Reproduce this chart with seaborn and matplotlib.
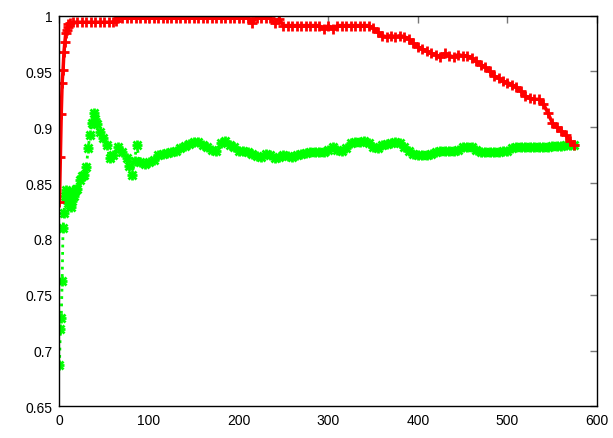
import matplotlib
matplotlib.use("Agg")
import matplotlib.pyplot as plt
import seaborn as sns
import pandas as pd

# red series (upper curve)
red_x = [0, 1, 2, 3, 4, 5, 6, 7, 8, 9, 10, 12, 15, 20, 25, 30, 35, 40, 45, 50, 55, 60, 63,
         65, 70, 75, 80, 85, 90, 95, 100, 105, 110, 115, 120, 125, 130, 135, 140, 145, 150,
         155, 160, 165, 170, 175, 180, 185, 190, 195, 200, 205, 210, 215, 220, 225, 230, 235,
         240, 245, 250, 255, 260, 265, 270, 275, 280, 285, 290, 295, 300, 305, 310, 315, 320,
         325, 330, 335, 340, 345, 350, 355, 360, 365, 370, 375, 380, 385, 390, 395, 400, 405,
         410, 415, 420, 425, 430, 435, 440, 445, 450, 455, 460, 465, 470, 475, 480, 485, 490,
         495, 500, 505, 510, 515, 520, 525, 530, 535, 540, 545, 550, 555, 560, 565, 570, 574]
red_y = [0.833, 0.873, 0.912, 0.940, 0.951, 0.967, 0.976, 0.984, 0.987, 0.990, 0.992, 0.993,
         0.994, 0.994, 0.994, 0.994, 0.994, 0.994, 0.994, 0.994, 0.994, 0.994, 0.995,
         0.998, 0.998, 0.998, 0.998, 0.998, 0.998, 0.998, 0.998, 0.998, 0.998, 0.998, 0.998,
         0.998, 0.998, 0.998, 0.998, 0.998, 0.998, 0.998, 0.998, 0.998, 0.998, 0.998, 0.998,
         0.998, 0.998, 0.998, 0.998, 0.998, 0.998, 0.993, 0.998, 0.998, 0.998, 0.998,
         0.993, 0.997, 0.991, 0.991, 0.991, 0.991, 0.991, 0.991, 0.991, 0.991, 0.991, 0.988,
         0.991, 0.988, 0.991, 0.991, 0.991, 0.991, 0.991, 0.991, 0.991, 0.991, 0.989, 0.985,
         0.982, 0.981, 0.982, 0.981, 0.982, 0.981, 0.979, 0.975, 0.972, 0.970, 0.968, 0.966,
         0.965, 0.963, 0.966, 0.964, 0.963, 0.965, 0.964, 0.964, 0.962, 0.959, 0.956, 0.954,
         0.950, 0.946, 0.944, 0.941, 0.940, 0.938, 0.936, 0.932, 0.928, 0.926, 0.925, 0.925,
         0.921, 0.913, 0.904, 0.900, 0.897, 0.893, 0.888, 0.884]

# green series (lower curve)
green_x = [0, 1, 2, 3, 4, 5, 6, 7, 8, 9, 10, 11, 12, 13, 14, 15, 16, 17, 18, 20, 23, 25, 27,
           30, 32, 34, 36, 38, 40, 42, 45, 49, 53, 56, 60, 65, 70, 75, 78, 81, 84, 86, 90, 95,
           100, 105, 110, 115, 120, 125, 130, 135, 140, 145, 150, 155, 160, 165, 170, 175, 180,
           185, 190, 195, 200, 205, 210, 215, 220, 225, 230, 235, 240, 245, 250, 255, 260, 265,
           270, 275, 280, 285, 290, 295, 300, 305, 310, 315, 320, 325, 330, 335, 340, 345, 350,
           355, 360, 365, 370, 375, 380, 385, 390, 395, 400, 405, 410, 415, 420, 425, 430, 435,
           440, 445, 450, 455, 460, 465, 470, 475, 480, 485, 490, 495, 500, 505, 510, 515, 520,
           525, 530, 535, 540, 545, 550, 555, 560, 565, 570, 574]
green_y = [0.687, 0.719, 0.729, 0.762, 0.810, 0.823, 0.838, 0.844, 0.836, 0.832, 0.840, 0.835,
           0.830, 0.829, 0.834, 0.842, 0.838, 0.843, 0.845, 0.845, 0.853, 0.856, 0.857,
           0.864, 0.881, 0.893, 0.904, 0.913, 0.907, 0.903, 0.896, 0.890, 0.884, 0.872, 0.875,
           0.882, 0.878, 0.872, 0.865, 0.857, 0.870, 0.884, 0.869, 0.867,
           0.869, 0.871, 0.875, 0.876, 0.877, 0.878, 0.879, 0.881, 0.883, 0.885, 0.887, 0.887,
           0.884, 0.882, 0.880, 0.879, 0.886, 0.888, 0.884, 0.882, 0.879, 0.879, 0.878, 0.876,
           0.874, 0.873, 0.876, 0.875, 0.872, 0.873, 0.875, 0.874, 0.873, 0.875, 0.876, 0.877,
           0.878, 0.878, 0.878, 0.878, 0.880, 0.882, 0.880, 0.879, 0.881, 0.886, 0.887, 0.887,
           0.888, 0.886, 0.882, 0.881, 0.884, 0.885, 0.886, 0.887, 0.886, 0.882, 0.879, 0.876,
           0.875, 0.875, 0.875, 0.876, 0.878, 0.879, 0.879, 0.879, 0.879, 0.880, 0.882, 0.882,
           0.882, 0.880, 0.878, 0.878, 0.878, 0.878, 0.878, 0.879, 0.879, 0.881, 0.882, 0.882,
           0.882, 0.882, 0.882, 0.882, 0.882, 0.882, 0.883, 0.883, 0.883, 0.884, 0.884, 0.884]

x_ticks = [0, 100, 200, 300, 400, 500, 600]
y_ticks = [0.65, 0.7, 0.75, 0.8, 0.85, 0.9, 0.95, 1]
y_labels = ["0.65", "0.7", "0.75", "0.8", "0.85", "0.9", "0.95", "1"]

sns.set_style("white")
plt.rcParams['font.family'] = ['Liberation Sans', 'DejaVu Sans']

fig = plt.figure(figsize=(6.13, 4.39), dpi=100)
ax = fig.add_axes([0.097, 0.0718, 0.877, 0.8906])

red = pd.DataFrame({"x": red_x, "y": red_y})
green = pd.DataFrame({"x": green_x, "y": green_y})

# green: dotted line with gnuplot-style star (+ and x overlaid)
sns.lineplot(data=green, x="x", y="y", ax=ax, color="#00ff00", linestyle=":",
             linewidth=2, marker="+", markersize=7, markeredgewidth=2,
             markeredgecolor="#00ff00", estimator=None, sort=False)
sns.lineplot(data=green, x="x", y="y", ax=ax, color="#00ff00", linestyle="none",
             marker="x", markersize=5.5, markeredgewidth=2,
             markeredgecolor="#00ff00", estimator=None, sort=False)
sns.lineplot(data=red, x="x", y="y", ax=ax, color="#ff0000", linestyle="-",
             linewidth=2.5, marker="+", markersize=7, markeredgewidth=2,
             markeredgecolor="#ff0000", estimator=None, sort=False)

ax.set_xlim(0, 600)
ax.set_ylim(0.65, 1)
ax.set_xticks(x_ticks)
ax.set_yticks(y_ticks)
ax.set_yticklabels(y_labels)
ax.set_xlabel("")
ax.set_ylabel("")
ax.tick_params(direction="in", length=5, width=1, color="#777777",
               top=True, right=True, labelsize=10, pad=5, labelcolor="black")
for s in ax.spines.values():
    s.set_color("black")
    s.set_linewidth(1)

fig.savefig("out.png", dpi=100)
